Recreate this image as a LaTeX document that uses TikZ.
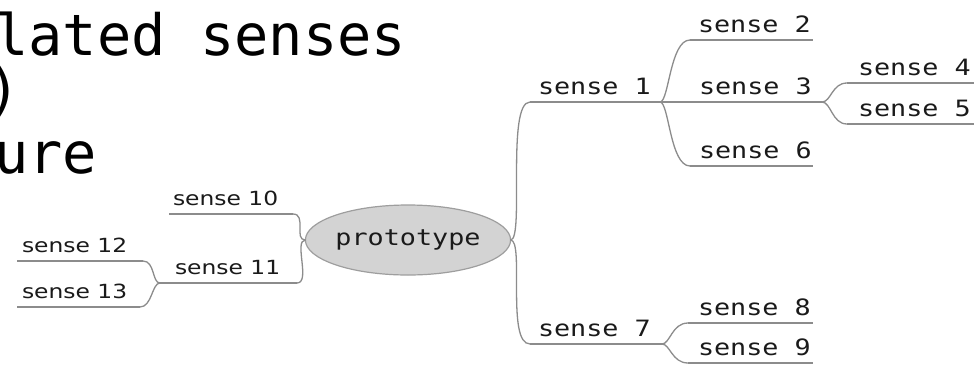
\documentclass[tikz,border=0pt]{standalone}
\usepackage{fontspec}
\usetikzlibrary{shapes.geometric}

% Fonts: large heading, the narrow "screen" labels, and the proportional labels
\newfontfamily\headfont{DejaVu Sans Mono}
\newfontfamily\pixfont[FakeStretch=1.19]{DejaVu Sans Mono}
\newfontfamily\propfont[FakeStretch=1.2]{DejaVu Sans}

\definecolor{branchgray}{HTML}{8C8C8C}
\definecolor{bubblefill}{HTML}{D3D3D3}
\definecolor{bubbleline}{HTML}{9E9E9E}
\definecolor{inkgray}{HTML}{1A1A1A}

% a label box of fixed width #1, its text indented by #2
\newcommand\senselabel[3]{\makebox[#1pt][l]{\hspace*{#2pt}#3}}

\begin{document}
\begin{tikzpicture}[x=1pt,y=-1pt,
  branch/.style={draw=branchgray, line width=1.3pt},
  heading/.style={anchor=base west, inner sep=0pt,
    font={\headfont\fontsize{57pt}{60pt}\selectfont}, text=black},
  rsense/.style={anchor=south west, inner xsep=0pt, inner ysep=8pt,
    outer sep=0pt, text depth=0pt, text=inkgray,
    font={\pixfont\fontsize{22.5pt}{24pt}\selectfont}},
  lsense/.style={anchor=south west, inner xsep=0pt, inner ysep=8.5pt,
    outer sep=0pt, text depth=0pt, text=inkgray,
    font={\propfont\fontsize{19.5pt}{21pt}\selectfont}},
  proto/.style={ellipse, draw=bubbleline, line width=1.2pt, fill=bubblefill,
    minimum width=170pt, minimum height=70pt, inner sep=0pt, outer sep=0pt,
    text=inkgray, font={\pixfont\fontsize{22.5pt}{24pt}\selectfont}}
]
\useasboundingbox (0,0) rectangle (974,365);
\fill[white] (0,0) rectangle (974,365);

% heading lines, cut off at the left edge
\begin{scope}
  \clip (0,0) rectangle (974,365);
  \node[heading] (h1) at (-6,55) {lated senses};
  \node[heading] (h2) at (-14,109) {)};
  \node[heading] (h3) at (-6,173) {ure};
\end{scope}

% central topic
\node[proto] (p) at (408,240) {prototype};

% right-hand branches
\node[rsense] (s1) at (530,102) {\senselabel{130}{8}{sense 1}};
\node[rsense] (s2) at (690,40)  {\senselabel{123}{8}{sense 2}};
\node[rsense] (s3) at (690,102) {\senselabel{132}{9}{sense 3}};
\node[rsense] (s4) at (847,83)  {\senselabel{127}{11}{sense 4}};
\node[rsense] (s5) at (847,124) {\senselabel{127}{11}{sense 5}};
\node[rsense] (s6) at (690,166) {\senselabel{123}{9}{sense 6}};
\node[rsense] (s7) at (530,344) {\senselabel{132}{8}{sense 7}};
\node[rsense] (s8) at (688,323) {\senselabel{125}{10}{sense 8}};
\node[rsense] (s9) at (688,363) {\senselabel{125}{10}{sense 9}};

% left-hand branches
\node[lsense] (s10) at (169,214) {\senselabel{124}{4}{sense 10}};
\node[lsense] (s11) at (160,283) {\senselabel{137}{15}{sense 11}};
\node[lsense] (s12) at (17,261)  {\senselabel{126}{5}{sense 12}};
\node[lsense] (s13) at (17,307)  {\senselabel{123}{5}{sense 13}};

% underlines of every branch label
\foreach \n in {s1,s2,s3,s4,s5,s6,s7,s8,s9,s10,s11,s12,s13}
  \draw[branch] (\n.south west) -- (\n.south east);

% connectors
\draw[branch] (p.east) .. controls +(14,0) and +(-24,0) .. (s1.south west);
\draw[branch] (p.east) .. controls +(14,0) and +(-24,0) .. (s7.south west);
\draw[branch] (p.west) .. controls +(-12,0) and +(14,0) .. (s10.south east);
\draw[branch] (p.west) .. controls +(-12,0) and +(14,0) .. (s11.south east);

\draw[branch] (s1.south east) .. controls +(9,0) and +(-20,0) .. (s2.south west);
\draw[branch] (s1.south east) -- (s3.south west);
\draw[branch] (s1.south east) .. controls +(9,0) and +(-20,0) .. (s6.south west);

\draw[branch] (s3.south east) .. controls +(9,0) and +(-15,0) .. (s4.south west);
\draw[branch] (s3.south east) .. controls +(9,0) and +(-15,0) .. (s5.south west);

\draw[branch] (s7.south east) .. controls +(8,0) and +(-16,0) .. (s8.south west);
\draw[branch] (s7.south east) .. controls +(8,0) and +(-16,0) .. (s9.south west);

\draw[branch] (s11.south west) .. controls +(-8,0) and +(12,0) .. (s12.south east);
\draw[branch] (s11.south west) .. controls +(-8,0) and +(12,0) .. (s13.south east);
\end{tikzpicture}
\end{document}
